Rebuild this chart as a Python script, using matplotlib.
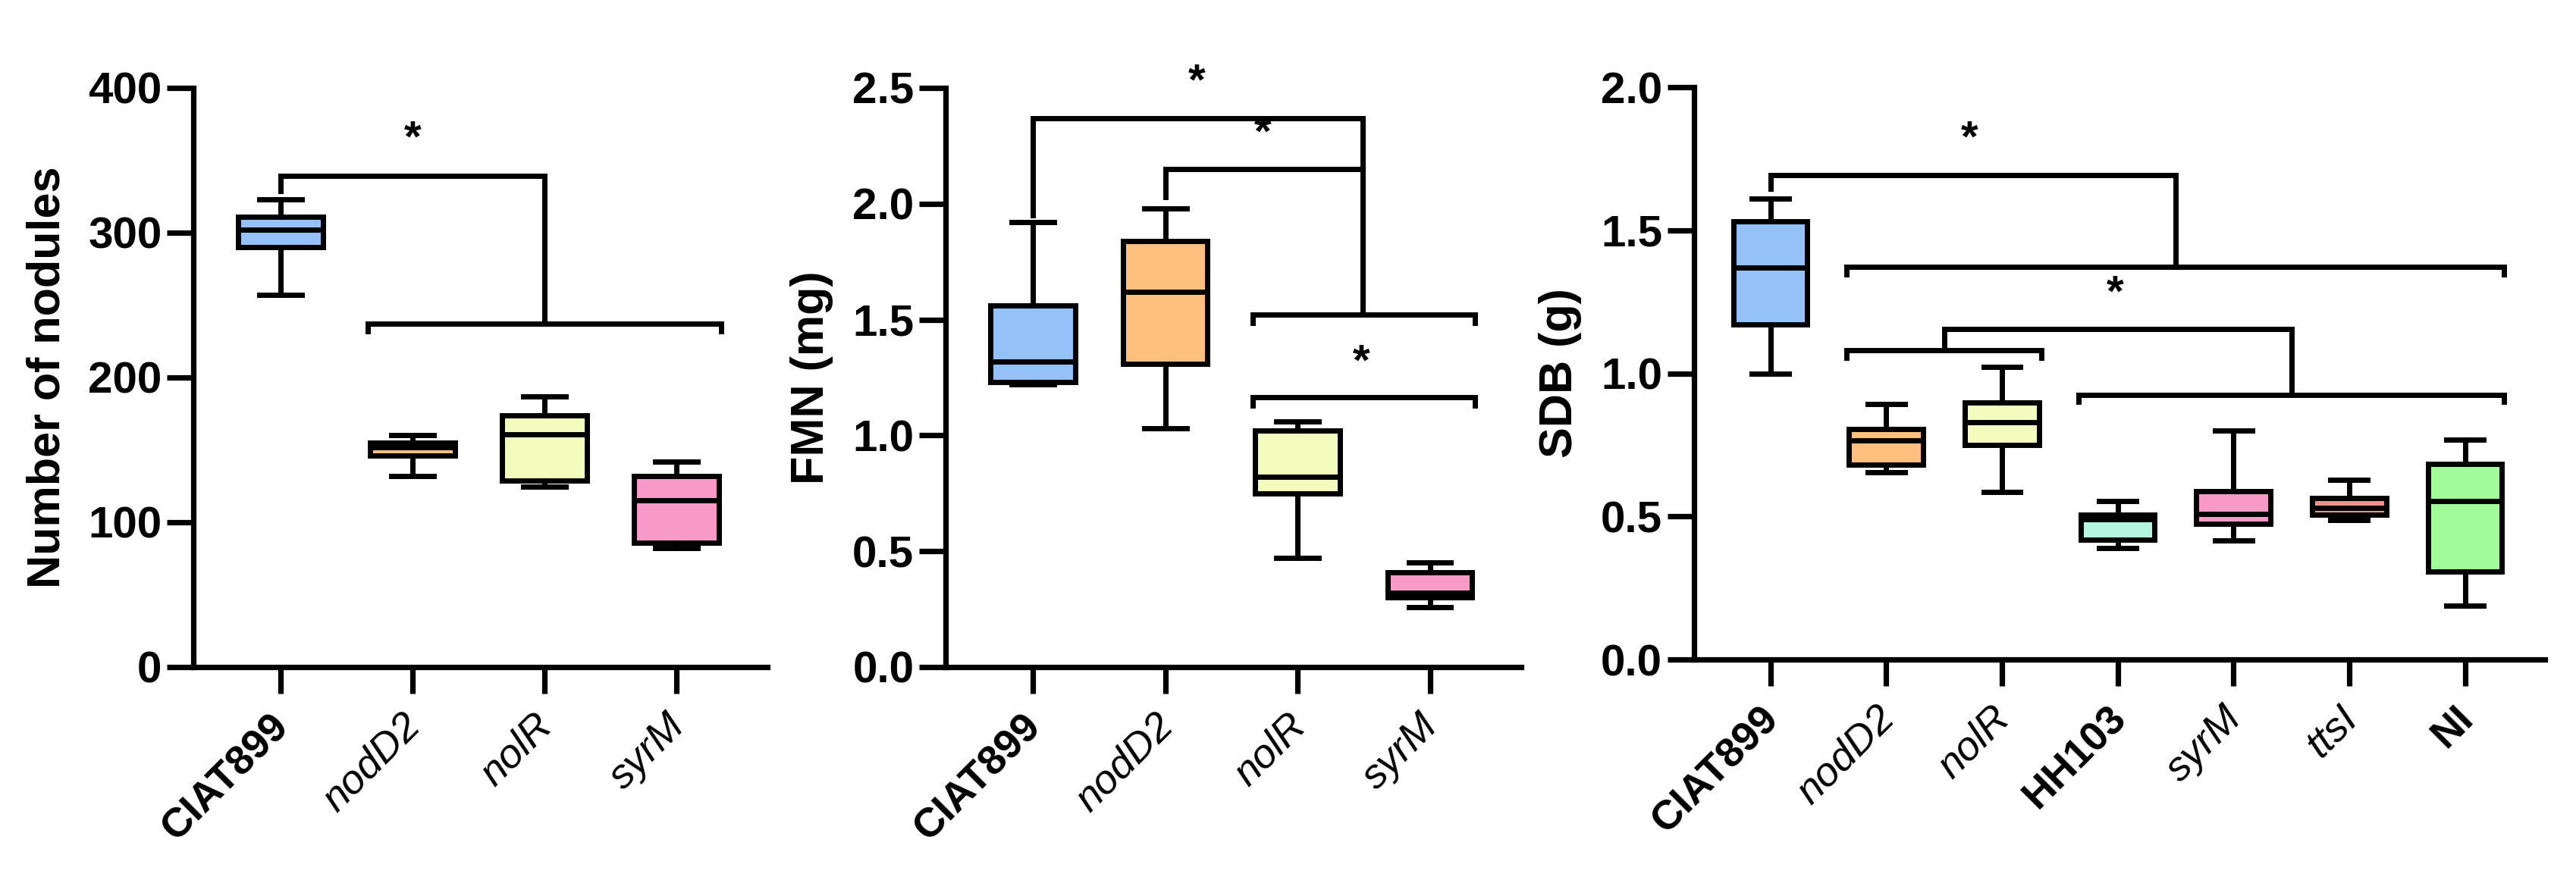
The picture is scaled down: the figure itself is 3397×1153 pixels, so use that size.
import matplotlib.pyplot as plt
from matplotlib.transforms import ScaledTranslation

plt.rcParams['font.family'] = ['Liberation Sans', 'DejaVu Sans']

# number of nodules
nod_names = ['CIAT899', 'nodD2', 'nolR', 'syrM']
nod_min = [257, 132, 124.5, 82]
nod_q1 = [290, 146, 129, 86]
nod_med = [302, 152, 160.5, 115]
nod_q3 = [311, 155, 174, 132]
nod_max = [323, 160, 187, 142]

# FMN (mg)
fmn_names = ['CIAT899', 'nodD2', 'nolR', 'syrM']
fmn_min = [1.22, 1.03, 0.47, 0.26]
fmn_q1 = [1.23, 1.31, 0.75, 0.30]
fmn_med = [1.32, 1.62, 0.82, 0.32]
fmn_q3 = [1.56, 1.84, 1.02, 0.41]
fmn_max = [1.92, 1.98, 1.06, 0.45]

# SDB (g)
sdb_names = ['CIAT899', 'nodD2', 'nolR', 'HH103', 'syrM', 'ttsI', 'NI']
sdb_min = [1.00, 0.654, 0.585, 0.39, 0.415, 0.488, 0.189]
sdb_q1 = [1.17, 0.68, 0.75, 0.42, 0.475, 0.505, 0.308]
sdb_med = [1.37, 0.767, 0.83, 0.49, 0.51, 0.53, 0.555]
sdb_q3 = [1.53, 0.806, 0.898, 0.505, 0.587, 0.565, 0.684]
sdb_max = [1.61, 0.894, 1.023, 0.553, 0.80, 0.627, 0.769]

colors = {'CIAT899': '#94c1f7', 'nodD2': '#fdc07f', 'nolR': '#f3fbbd',
          'syrM': '#f89ac8', 'HH103': '#b4f6e0', 'ttsI': '#f5918c',
          'NI': '#a1fb9b'}
strains = ['CIAT899', 'HH103', 'NI']

LW = 5
BW = 0.64
HALF = 0.34


def boxes(ax, names, mins, q1s, meds, q3s, maxs):
    stats = []
    for n, a, b, c, d, e in zip(names, mins, q1s, meds, q3s, maxs):
        stats.append({'label': n, 'whislo': a, 'q1': b, 'med': c,
                      'q3': d, 'whishi': e, 'fliers': []})
    bp = ax.bxp(stats, positions=range(len(names)), widths=BW,
                patch_artist=True, showfliers=False,
                boxprops=dict(linewidth=LW, edgecolor='black'),
                medianprops=dict(linewidth=LW, color='black'),
                whiskerprops=dict(linewidth=LW, color='black'),
                capprops=dict(linewidth=LW, color='black'),
                capwidths=BW / 2)
    for patch, n in zip(bp['boxes'], names):
        patch.set_facecolor(colors[n])
        patch.set_joinstyle('miter')


def style(ax, names, ylim, yticks, ylabel, labelpad):
    for s in ['top', 'right']:
        ax.spines[s].set_visible(False)
    for s in ['left', 'bottom']:
        ax.spines[s].set_linewidth(5.2)
    ax.set_xlim(-0.66, len(names) - 0.31)
    ax.set_ylim(*ylim)
    ax.set_yticks(yticks)
    ax.tick_params(axis='both', direction='out', length=25, width=5.2)
    ax.tick_params(axis='y', labelsize=42, pad=5)
    ax.tick_params(axis='x', pad=12.7)
    ax.set_xticks(range(len(names)))
    ax.set_xticklabels(names, rotation=45, ha='right',
                       rotation_mode='anchor', fontsize=39)
    # nudge the rotated labels so their ends sit under the ticks
    shift = ScaledTranslation(-10.5 / 72, 0, ax.figure.dpi_scale_trans)
    for lab in ax.get_xticklabels():
        lab.set_transform(lab.get_transform() + shift)
        if lab.get_text() in strains:
            lab.set_fontweight('bold')
        else:
            lab.set_fontstyle('italic')
    for lab in ax.get_yticklabels():
        lab.set_fontweight('bold')
    ax.set_ylabel(ylabel, fontsize=44, fontweight='bold', labelpad=labelpad)


def bracket(ax, i0, i1, y, leg):
    x0, x1 = i0 - HALF, i1 + HALF
    ax.plot([x0, x0, x1, x1], [y - leg, y, y, y - leg], color='black',
            lw=LW, clip_on=False, solid_joinstyle='miter')


def link(ax, x0, y0, ytop, x1, y1):
    ax.plot([x0, x0, x1, x1], [y0, ytop, ytop, y1], color='black',
            lw=LW, clip_on=False, solid_joinstyle='miter')


def star(ax, x, y):
    ax.text(x, y, '*', ha='center', va='center', fontsize=42,
            fontweight='bold', clip_on=False)


fig = plt.figure(figsize=(33.97, 11.53), dpi=100)

ax1 = fig.add_axes([0.0751, 0.2368, 0.2228, 0.6626])
boxes(ax1, nod_names, nod_min, nod_q1, nod_med, nod_q3, nod_max)
style(ax1, nod_names, (0, 400), [0, 100, 200, 300, 400],
      'Number of nodules', 18)
bracket(ax1, 1, 3, 237, 5)
link(ax1, 0, 329, 339, 2.0, 237)
star(ax1, 1.0, 364)

ax2 = fig.add_axes([0.3671, 0.2368, 0.2234, 0.6626])
boxes(ax2, fmn_names, fmn_min, fmn_q1, fmn_med, fmn_q3, fmn_max)
style(ax2, fmn_names, (0, 2.5), [0, 0.5, 1.0, 1.5, 2.0, 2.5],
      'FMN (mg)', 18)
ax2.set_yticklabels(['0.0', '0.5', '1.0', '1.5', '2.0', '2.5'],
                    fontweight='bold')
bracket(ax2, 2, 3, 1.52, 0.035)
bracket(ax2, 2, 3, 1.164, 0.035)
link(ax2, 0, 1.95, 2.37, 2.49, 1.52)
link(ax2, 1, 2.03, 2.15, 2.49, 2.15)
star(ax2, 1.24, 2.52)
star(ax2, 1.74, 2.30)
star(ax2, 2.48, 1.31)

ax3 = fig.add_axes([0.6576, 0.2454, 0.3303, 0.6548])
boxes(ax3, sdb_names, sdb_min, sdb_q1, sdb_med, sdb_q3, sdb_max)
style(ax3, sdb_names, (0, 2.0), [0, 0.5, 1.0, 1.5, 2.0], 'SDB (g)', 18)
ax3.set_yticklabels(['0.0', '0.5', '1.0', '1.5', '2.0'], fontweight='bold')
bracket(ax3, 1, 6, 1.372, 0.025)
link(ax3, 0, 1.645, 1.692, 3.5, 1.372)
bracket(ax3, 1, 2, 1.081, 0.027)
bracket(ax3, 3, 6, 0.925, 0.025)
link(ax3, 1.5, 1.081, 1.155, 4.5, 0.925)
star(ax3, 1.72, 1.815)
star(ax3, 2.98, 1.275)

fig.savefig('out.png', dpi=100)
